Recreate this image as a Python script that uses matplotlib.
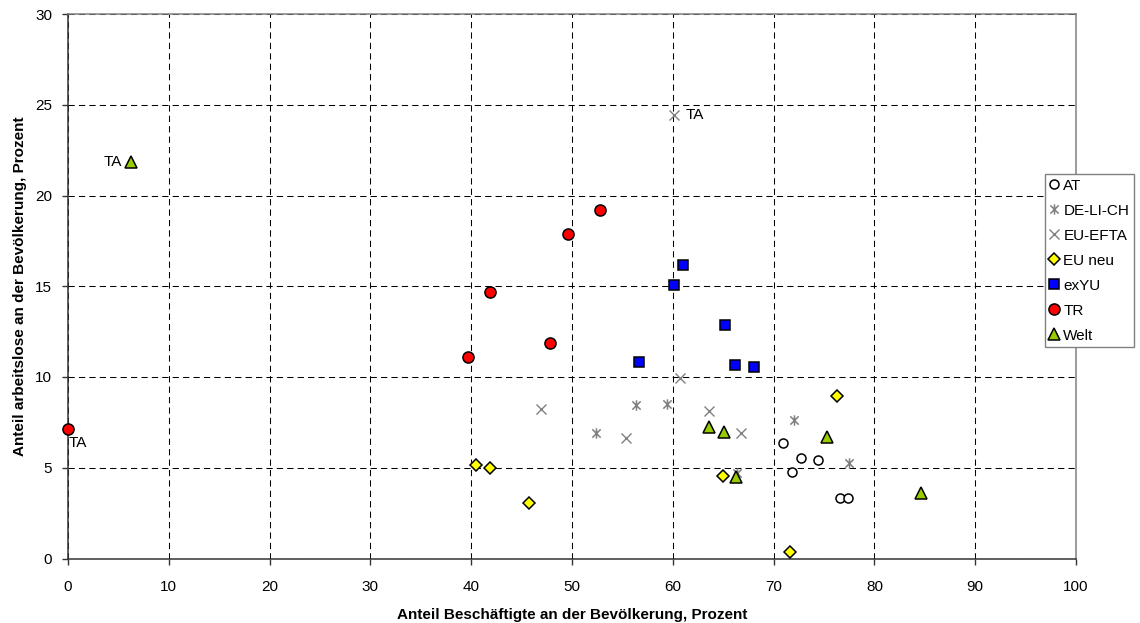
import matplotlib
matplotlib.use("Agg")
import matplotlib.pyplot as plt
from matplotlib.path import Path

plt.rcParams['font.family'] = ['Liberation Sans', 'DejaVu Sans']

# Beschaeftigte (x) und Arbeitslose (y) in Prozent der Bevoelkerung
at_x = [70.96, 72.7, 74.4, 71.8, 76.6, 77.4]
at_y = [6.38, 5.52, 5.43, 4.78, 3.35, 3.35]

de_x = [52.4, 56.35, 59.4, 66.4, 72.05, 77.5]
de_y = [6.93, 8.46, 8.51, 4.69, 7.63, 5.24]

efta_x = [46.9, 55.4, 60.1, 60.7, 63.6, 66.8]
efta_y = [8.26, 6.64, 24.42, 9.93, 8.14, 6.91]

neu_x = [40.5, 41.9, 45.7, 65.0, 71.65, 76.3]
neu_y = [5.15, 4.97, 3.04, 4.55, 0.36, 8.95]

yu_x = [56.6, 60.1, 61.0, 65.2, 66.2, 68.1]
yu_y = [10.81, 15.05, 16.15, 12.85, 10.66, 10.57]

tr_x = [0.0, 39.7, 41.9, 47.8, 49.6, 52.8]
tr_y = [7.15, 11.12, 14.67, 11.89, 17.9, 19.2]

welt_x = [6.25, 63.6, 65.1, 66.3, 75.3, 84.65]
welt_y = [21.86, 7.23, 6.97, 4.47, 6.68, 3.63]

# asterisk: x plus vertical bar
star = Path([(-1, -1), (1, 1), (-1, 1), (1, -1), (0, -1.25), (0, 1.25)],
            [Path.MOVETO, Path.LINETO, Path.MOVETO, Path.LINETO, Path.MOVETO, Path.LINETO])

fig = plt.figure(figsize=(11.4, 6.23), dpi=100)
ax = fig.add_axes([68 / 1140, 1 - 558.5 / 623, 1008 / 1140, 544.5 / 623])

kw = dict(linestyle='none', zorder=4, clip_on=False)
ax.plot(at_x, at_y, marker='o', ms=6.5, mfc='white', mec='black', mew=1.1, label='AT', **kw)
ax.plot(de_x, de_y, marker=star, ms=7.5, mfc='none', mec='#808080', mew=1.1, label='DE-LI-CH', **kw)
ax.plot(efta_x, efta_y, marker='x', ms=7.5, mec='#808080', mew=1.0, label='EU-EFTA', **kw)
ax.plot(neu_x, neu_y, marker='D', ms=6, mfc='#FFFF00', mec='black', mew=1.1, label='EU neu', **kw)
ax.plot(yu_x, yu_y, marker='s', ms=7, mfc='#0000FF', mec='black', mew=1.1, label='exYU', **kw)
ax.plot(tr_x, tr_y, marker='o', ms=8, mfc='#FF0000', mec='black', mew=1.1, label='TR', **kw)
ax.plot(welt_x, welt_y, marker='^', ms=8.5, mfc='#99CC00', mec='black', mew=1.1, label='Welt', **kw)

# TA labels
ax.annotate('TA', (welt_x[0], welt_y[0]), xytext=(-6.5, 0), textcoords='offset points',
            ha='right', va='center', fontsize=11)
ax.annotate('TA', (efta_x[2], efta_y[2]), xytext=(8.6, 0), textcoords='offset points',
            ha='left', va='center', fontsize=11)
ax.annotate('TA', (tr_x[0], tr_y[0]), xytext=(0.7, -10.5), textcoords='offset points',
            ha='left', va='center', fontsize=11)

ax.set_xlim(0, 100)
ax.set_ylim(0, 30)
ax.set_xticks(range(0, 101, 10))
ax.set_yticks(range(0, 31, 5))
ax.grid(True, color='black', linestyle=(0, (6, 4)), linewidth=0.75)
ax.set_axisbelow(True)

for side in ['left', 'bottom']:
    ax.spines[side].set_color('#333333')
    ax.spines[side].set_linewidth(1.1)
for side in ['top', 'right']:
    ax.spines[side].set_color('#808080')
    ax.spines[side].set_linewidth(1.1)

ax.tick_params(axis='x', direction='out', length=4, width=1, color='#333333',
               labelsize=11, pad=11.5)
ax.tick_params(axis='y', direction='out', length=4, width=1, color='#333333',
               labelsize=11, pad=7.5)

ax.set_xlabel('Anteil Beschäftigte an der Bevölkerung, Prozent', fontsize=11, fontweight='bold')
ax.set_ylabel('Anteil arbeitslose an der Bevölkerung, Prozent', fontsize=11, fontweight='bold')
ax.xaxis.set_label_coords(0.5, -0.104)
ax.xaxis.label.set_va('center')
ax.yaxis.set_label_coords(-0.048, 0.5)
ax.yaxis.label.set_va('center')

leg = ax.legend(loc='upper left', bbox_to_anchor=(1045 / 1140, 1 - 174 / 623),
                bbox_transform=fig.transFigure, fontsize=11, frameon=True, fancybox=False,
                framealpha=1, edgecolor='#808080', borderpad=0.3, labelspacing=0.72,
                handlelength=0.6, handletextpad=0.3, borderaxespad=0)
leg.get_frame().set_linewidth(1)

fig.savefig('out.png', dpi=100)
